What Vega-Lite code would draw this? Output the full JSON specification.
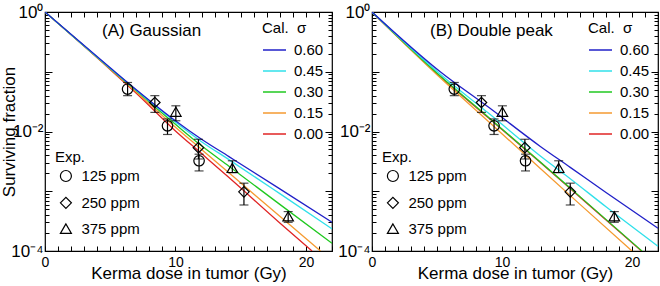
{
  "$schema": "https://vega.github.io/schema/vega-lite/v6.json",
  "padding": {"left": 0, "top": 2, "right": 2, "bottom": 0},
  "spacing": 3,
  "config": {
    "font": "Liberation Sans",
    "view": {"stroke": "black", "strokeWidth": 1.2},
    "axis": {
      "domain": false, "grid": false, "tickColor": "black", "tickWidth": 1,
      "labelColor": "black", "titleColor": "black", "labelFont": "Liberation Sans",
      "titleFont": "Liberation Sans", "labelFontSize": 14, "titleFontSize": 17,
      "titleFontWeight": "normal", "labelFlush": false
    },
    "legend": {
      "labelFont": "Liberation Sans", "titleFont": "Liberation Sans",
      "labelFontSize": 15, "titleFontSize": 15, "titleFontWeight": "normal",
      "labelColor": "black", "titleColor": "black", "padding": 0, "titleAnchor": "start"
    },
    "title": {"font": "Liberation Sans", "fontSize": 17, "fontWeight": "normal", "color": "black"}
  },
  "datasets": {
    "linesA": [
      {"sigma": "0.00", "d": 0, "S": 1}, {"sigma": "0.00", "d": 4.93, "S": 0.1122}, {"sigma": "0.00", "d": 7, "S": 0.04365}, {"sigma": "0.00", "d": 10, "S": 0.01023}, {"sigma": "0.00", "d": 12, "S": 0.004266}, {"sigma": "0.00", "d": 14.1, "S": 0.001698}, {"sigma": "0.00", "d": 18, "S": 0.000295}, {"sigma": "0.00", "d": 20.47, "S": 0.0001},
      {"sigma": "0.15", "d": 0, "S": 1}, {"sigma": "0.15", "d": 4.93, "S": 0.1148}, {"sigma": "0.15", "d": 7, "S": 0.04571}, {"sigma": "0.15", "d": 10, "S": 0.01175}, {"sigma": "0.15", "d": 12, "S": 0.005012}, {"sigma": "0.15", "d": 14.1, "S": 0.002042}, {"sigma": "0.15", "d": 18, "S": 0.00038}, {"sigma": "0.15", "d": 21.12, "S": 0.0001},
      {"sigma": "0.30", "d": 0, "S": 1}, {"sigma": "0.30", "d": 4.93, "S": 0.1161}, {"sigma": "0.30", "d": 7, "S": 0.04786}, {"sigma": "0.30", "d": 10, "S": 0.01318}, {"sigma": "0.30", "d": 12, "S": 0.005754}, {"sigma": "0.30", "d": 14.1, "S": 0.00263}, {"sigma": "0.30", "d": 18, "S": 0.000603}, {"sigma": "0.30", "d": 22, "S": 0.000135},
      {"sigma": "0.45", "d": 0, "S": 1}, {"sigma": "0.45", "d": 4.93, "S": 0.1175}, {"sigma": "0.45", "d": 7, "S": 0.04898}, {"sigma": "0.45", "d": 10, "S": 0.01445}, {"sigma": "0.45", "d": 12, "S": 0.006761}, {"sigma": "0.45", "d": 14.1, "S": 0.003388}, {"sigma": "0.45", "d": 18, "S": 0.000912}, {"sigma": "0.45", "d": 22, "S": 0.000234},
      {"sigma": "0.60", "d": 0, "S": 1}, {"sigma": "0.60", "d": 4.93, "S": 0.1202}, {"sigma": "0.60", "d": 7, "S": 0.05012}, {"sigma": "0.60", "d": 10, "S": 0.01514}, {"sigma": "0.60", "d": 12, "S": 0.007413}, {"sigma": "0.60", "d": 14.1, "S": 0.003802}, {"sigma": "0.60", "d": 18, "S": 0.001096}, {"sigma": "0.60", "d": 22, "S": 0.000302}
    ],
    "linesB": [
      {"sigma": "0.00", "d": 0, "S": 1}, {"sigma": "0.00", "d": 5.25, "S": 0.08318}, {"sigma": "0.00", "d": 9, "S": 0.0166}, {"sigma": "0.00", "d": 12.95, "S": 0.00302}, {"sigma": "0.00", "d": 16, "S": 0.000794}, {"sigma": "0.00", "d": 20.72, "S": 0.0001},
      {"sigma": "0.15", "d": 0, "S": 1}, {"sigma": "0.15", "d": 5.25, "S": 0.07943}, {"sigma": "0.15", "d": 9, "S": 0.01445}, {"sigma": "0.15", "d": 12.95, "S": 0.002399}, {"sigma": "0.15", "d": 16, "S": 0.000603}, {"sigma": "0.15", "d": 20.0, "S": 0.0001},
      {"sigma": "0.30", "d": 0, "S": 1}, {"sigma": "0.30", "d": 5.25, "S": 0.08511}, {"sigma": "0.30", "d": 9, "S": 0.01698}, {"sigma": "0.30", "d": 12.95, "S": 0.00309}, {"sigma": "0.30", "d": 16, "S": 0.000813}, {"sigma": "0.30", "d": 20.77, "S": 0.0001},
      {"sigma": "0.45", "d": 0, "S": 1}, {"sigma": "0.45", "d": 5.25, "S": 0.0912}, {"sigma": "0.45", "d": 9, "S": 0.01995}, {"sigma": "0.45", "d": 12.95, "S": 0.00389}, {"sigma": "0.45", "d": 15.25, "S": 0.001622}, {"sigma": "0.45", "d": 18, "S": 0.00055}, {"sigma": "0.45", "d": 22, "S": 0.0001202},
      {"sigma": "0.60", "d": 0, "S": 1}, {"sigma": "0.60", "d": 5.25, "S": 0.1}, {"sigma": "0.60", "d": 9, "S": 0.02512}, {"sigma": "0.60", "d": 12.95, "S": 0.005623}, {"sigma": "0.60", "d": 15.25, "S": 0.002512}, {"sigma": "0.60", "d": 18, "S": 0.000955}, {"sigma": "0.60", "d": 22, "S": 0.00024}
    ],
    "points": [
      {"ppm": "125 ppm", "d": 6.33, "S": 0.0513, "lo": 0.0398, "hi": 0.0661},
      {"ppm": "250 ppm", "d": 8.42, "S": 0.03055, "lo": 0.02089, "hi": 0.03981},
      {"ppm": "375 ppm", "d": 10.03, "S": 0.02138, "lo": 0.01514, "hi": 0.02692},
      {"ppm": "125 ppm", "d": 9.39, "S": 0.01245, "lo": 0.008913, "hi": 0.01622},
      {"ppm": "250 ppm", "d": 11.76, "S": 0.00537, "lo": 0.003467, "hi": 0.007413},
      {"ppm": "125 ppm", "d": 11.81, "S": 0.003236, "lo": 0.002188, "hi": 0.004169},
      {"ppm": "375 ppm", "d": 14.36, "S": 0.002455, "lo": 0.002042, "hi": 0.003236},
      {"ppm": "250 ppm", "d": 15.25, "S": 0.000977, "lo": 0.000589, "hi": 0.001365},
      {"ppm": "375 ppm", "d": 18.64, "S": 0.00038, "lo": 0.000302, "hi": 0.000457}
    ]
  },
  "resolve": {"legend": {"color": "independent", "shape": "independent"}},
  "hconcat": [
    {
      "width": 287, "height": 239,
      "title": {"text": "(A) Gaussian", "anchor": "start", "frame": "group", "dx": 57, "offset": -37},
      "resolve": {"axis": {"x": "independent", "y": "independent"}},
      "layer": [
        {
          "data": {"name": "linesA"},
          "mark": {"type": "line", "strokeWidth": 1.3, "interpolate": "monotone", "clip": true},
          "encoding": {
            "x": {"field": "d", "type": "quantitative", "scale": {"domain": [0, 22], "nice": false},
              "axis": {"orient": "bottom", "title": "Kerma dose in tumor (Gy)", "values": [0,1,2,3,4,5,6,7,8,9,10,11,12,13,14,15,16,17,18,19,20,21,22], "labelExpr": "datum.value % 10 === 0 ? datum.label : ''", "tickSize": -5, "labelPadding": 9, "titlePadding": -4}},
            "y": {"field": "S", "type": "quantitative", "scale": {"type": "log", "domain": [0.0001, 1], "nice": false},
              "axis": {"orient": "left", "title": "Surviving fraction", "values": [0.0001,0.0002,0.0003,0.0004,0.0005,0.0006,0.0007,0.0008,0.0009,0.001,0.002,0.003,0.004,0.005,0.006,0.007,0.008,0.009,0.01,0.02,0.03,0.04,0.05,0.06,0.07,0.08,0.09,0.1,0.2,0.3,0.4,0.5,0.6,0.7,0.8,0.9,1],
                "labelExpr": "datum.value === 1 ? '10⁰' : (datum.value === 0.01 ? '10⁻²' : (datum.value === 0.0001 ? '10⁻⁴' : ''))",
                "labelFontSize": 17,
                "tickSize": {"condition": {"test": "abs(log(datum.value)/LN10 - round(log(datum.value)/LN10)) < 0.001", "value": -7}, "value": -4},
                "labelPadding": 9, "titlePadding": -8}},
            "color": {"field": "sigma", "type": "nominal",
              "scale": {"domain": ["0.60", "0.45", "0.30", "0.15", "0.00"], "range": ["#2020c8", "#30e0ea", "#20c820", "#f59a30", "#e02424"]},
              "legend": {"title": "Cal.\u00a0\u00a0σ", "orient": "top-right", "offset": 8.5, "symbolType": "stroke", "symbolSize": 529, "symbolStrokeWidth": 1.5, "labelOffset": 7, "rowPadding": -6, "titlePadding": 1.5, "labelExpr": "datum.label + '\u00a0\u00a0\u00a0'"}}
          }
        },
        {
          "data": {"name": "points"},
          "mark": {"type": "errorbar", "color": "black", "thickness": 1.2, "ticks": {"size": 9, "thickness": 1.2, "color": "black"}},
          "encoding": {
            "x": {"field": "d", "type": "quantitative", "scale": {"domain": [0, 22], "nice": false}, "axis": null},
            "y": {"field": "lo", "type": "quantitative", "scale": {"type": "log", "domain": [0.0001, 1], "nice": false}, "axis": null},
            "y2": {"field": "hi"}
          }
        },
        {
          "data": {"name": "points"},
          "mark": {"type": "point", "filled": false, "stroke": "black", "strokeWidth": 1.2, "size": 110, "opacity": 1},
          "encoding": {
            "x": {"field": "d", "type": "quantitative", "scale": {"domain": [0, 22], "nice": false},
              "axis": {"orient": "top", "title": null, "labels": false, "values": [0,1,2,3,4,5,6,7,8,9,10,11,12,13,14,15,16,17,18,19,20,21,22], "tickSize": -5}},
            "y": {"field": "S", "type": "quantitative", "scale": {"type": "log", "domain": [0.0001, 1], "nice": false},
              "axis": {"orient": "right", "title": null, "labels": false, "values": [0.0001,0.0002,0.0003,0.0004,0.0005,0.0006,0.0007,0.0008,0.0009,0.001,0.002,0.003,0.004,0.005,0.006,0.007,0.008,0.009,0.01,0.02,0.03,0.04,0.05,0.06,0.07,0.08,0.09,0.1,0.2,0.3,0.4,0.5,0.6,0.7,0.8,0.9,1],
                "tickSize": {"condition": {"test": "abs(log(datum.value)/LN10 - round(log(datum.value)/LN10)) < 0.001", "value": -7}, "value": -4}}},
            "shape": {"field": "ppm", "type": "nominal",
              "scale": {"domain": ["125 ppm", "250 ppm", "375 ppm"], "range": ["circle", "diamond", "triangle-up"]},
              "legend": {"title": "Exp.", "orient": "none", "legendX": 10, "legendY": 138, "symbolOffset": 3.4, "symbolSize": 121, "symbolFillColor": "transparent", "symbolStrokeColor": "black", "symbolStrokeWidth": 1.2, "labelOffset": 8, "rowPadding": 9.8, "titlePadding": 3.5}}
          }
        }
      ]
    },
    {
      "width": 286, "height": 239,
      "title": {"text": "(B) Double peak", "anchor": "start", "frame": "group", "dx": 58, "offset": -37},
      "resolve": {"axis": {"x": "independent", "y": "independent"}},
      "layer": [
        {
          "data": {"name": "linesB"},
          "mark": {"type": "line", "strokeWidth": 1.3, "interpolate": "monotone", "clip": true},
          "encoding": {
            "x": {"field": "d", "type": "quantitative", "scale": {"domain": [0, 22], "nice": false},
              "axis": {"orient": "bottom", "title": "Kerma dose in tumor (Gy)", "values": [0,1,2,3,4,5,6,7,8,9,10,11,12,13,14,15,16,17,18,19,20,21,22], "labelExpr": "datum.value % 10 === 0 ? datum.label : ''", "tickSize": -5, "labelPadding": 9, "titlePadding": -4}},
            "y": {"field": "S", "type": "quantitative", "scale": {"type": "log", "domain": [0.0001, 1], "nice": false},
              "axis": {"orient": "left", "title": null, "values": [0.0001,0.0002,0.0003,0.0004,0.0005,0.0006,0.0007,0.0008,0.0009,0.001,0.002,0.003,0.004,0.005,0.006,0.007,0.008,0.009,0.01,0.02,0.03,0.04,0.05,0.06,0.07,0.08,0.09,0.1,0.2,0.3,0.4,0.5,0.6,0.7,0.8,0.9,1],
                "labelExpr": "datum.value === 1 ? '10⁰' : (datum.value === 0.01 ? '10⁻²' : (datum.value === 0.0001 ? '10⁻⁴' : ''))",
                "labelFontSize": 17,
                "tickSize": {"condition": {"test": "abs(log(datum.value)/LN10 - round(log(datum.value)/LN10)) < 0.001", "value": -7}, "value": -4},
                "labelPadding": 9}},
            "color": {"field": "sigma", "type": "nominal",
              "scale": {"domain": ["0.60", "0.45", "0.30", "0.15", "0.00"], "range": ["#2020c8", "#30e0ea", "#20c820", "#f59a30", "#e02424"]},
              "legend": {"title": "Cal.\u00a0\u00a0σ", "orient": "top-right", "offset": 8.5, "symbolType": "stroke", "symbolSize": 529, "symbolStrokeWidth": 1.5, "labelOffset": 7, "rowPadding": -6, "titlePadding": 1.5, "labelExpr": "datum.label + '\u00a0\u00a0\u00a0'"}}
          }
        },
        {
          "data": {"name": "points"},
          "mark": {"type": "errorbar", "color": "black", "thickness": 1.2, "ticks": {"size": 9, "thickness": 1.2, "color": "black"}},
          "encoding": {
            "x": {"field": "d", "type": "quantitative", "scale": {"domain": [0, 22], "nice": false}, "axis": null},
            "y": {"field": "lo", "type": "quantitative", "scale": {"type": "log", "domain": [0.0001, 1], "nice": false}, "axis": null},
            "y2": {"field": "hi"}
          }
        },
        {
          "data": {"name": "points"},
          "mark": {"type": "point", "filled": false, "stroke": "black", "strokeWidth": 1.2, "size": 110, "opacity": 1},
          "encoding": {
            "x": {"field": "d", "type": "quantitative", "scale": {"domain": [0, 22], "nice": false},
              "axis": {"orient": "top", "title": null, "labels": false, "values": [0,1,2,3,4,5,6,7,8,9,10,11,12,13,14,15,16,17,18,19,20,21,22], "tickSize": -5}},
            "y": {"field": "S", "type": "quantitative", "scale": {"type": "log", "domain": [0.0001, 1], "nice": false},
              "axis": {"orient": "right", "title": null, "labels": false, "values": [0.0001,0.0002,0.0003,0.0004,0.0005,0.0006,0.0007,0.0008,0.0009,0.001,0.002,0.003,0.004,0.005,0.006,0.007,0.008,0.009,0.01,0.02,0.03,0.04,0.05,0.06,0.07,0.08,0.09,0.1,0.2,0.3,0.4,0.5,0.6,0.7,0.8,0.9,1],
                "tickSize": {"condition": {"test": "abs(log(datum.value)/LN10 - round(log(datum.value)/LN10)) < 0.001", "value": -7}, "value": -4}}},
            "shape": {"field": "ppm", "type": "nominal",
              "scale": {"domain": ["125 ppm", "250 ppm", "375 ppm"], "range": ["circle", "diamond", "triangle-up"]},
              "legend": {"title": "Exp.", "orient": "none", "legendX": 10, "legendY": 138, "symbolOffset": 3.4, "symbolSize": 121, "symbolFillColor": "transparent", "symbolStrokeColor": "black", "symbolStrokeWidth": 1.2, "labelOffset": 8, "rowPadding": 9.8, "titlePadding": 3.5}}
          }
        }
      ]
    }
  ]
}
